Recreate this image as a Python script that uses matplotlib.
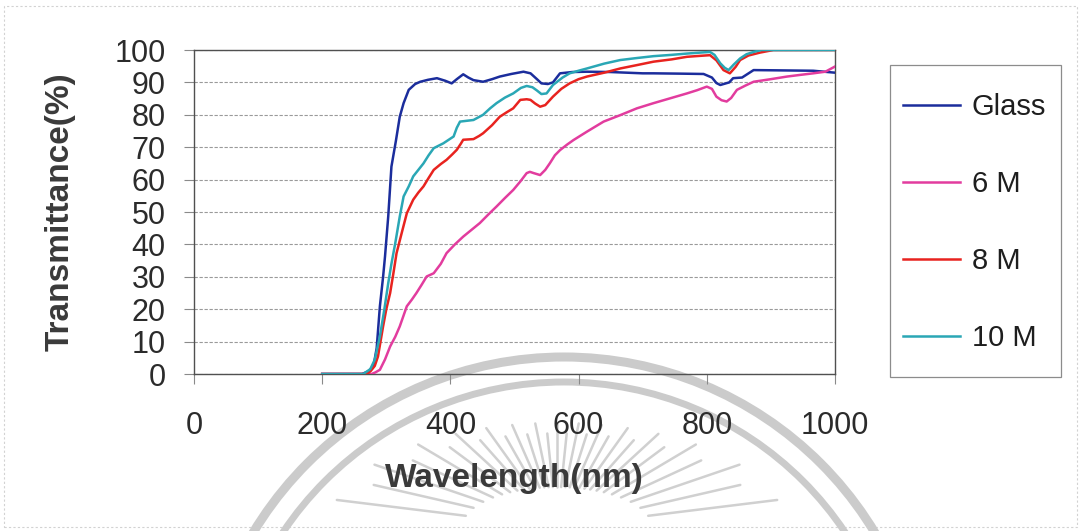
import matplotlib
matplotlib.use("Agg")
import numpy as np
import matplotlib.pyplot as plt
from matplotlib.patches import Rectangle, Arc
from matplotlib.lines import Line2D

plt.rcParams['font.family'] = ['Liberation Sans', 'DejaVu Sans']

# ---------------- data ----------------
glass_wl = [200, 262, 272, 280, 285, 290, 295, 298, 303, 308, 315, 321, 327, 335, 345, 353, 365, 379,
            392, 402, 410, 420, 428, 436, 451, 465, 477, 495, 514, 525, 535, 542, 552, 560, 571, 590,
            613, 650, 700, 717, 760, 795, 808, 815, 821, 828, 835, 841, 855, 873, 920, 966, 1000]
glass_t = [0, 0, 0.8, 2.4, 8, 20.9, 30, 36.3, 48.6, 64, 72, 79.4, 83.6, 87.7, 89.5, 90.2, 90.8, 91.3,
           90.5, 89.7, 91, 92.5, 91.5, 90.7, 90.2, 91, 91.8, 92.6, 93.3, 92.8, 91, 89.7, 89.5, 90, 92.8, 93.2,
           93.3, 93.2, 92.8, 92.8, 92.7, 92.6, 91.5, 89.8, 89.2, 89.6, 90, 91.3, 91.5, 93.8, 93.7, 93.6, 93]

m6_wl = [200, 277, 283, 290, 298, 306, 314, 321, 332, 340, 347, 355, 363, 374, 385, 394, 407, 420, 433,
         446, 459, 472, 485, 498, 509, 519, 524, 530, 540, 548, 555, 563, 571, 582, 592, 613, 639, 665,
         691, 717, 743, 769, 785, 800, 808, 815, 823, 831, 838, 847, 860, 873, 900, 925, 945, 966, 985, 1000]
m6_t = [0, 0, 0.5, 1.3, 4.5, 8.5, 11.5, 14.7, 20.9, 23, 25, 27.5, 30.1, 31.1, 34, 37.3, 40, 42.4, 44.5,
        46.6, 49.2, 51.7, 54.3, 56.8, 59.4, 62, 62.4, 62, 61.4, 63, 65, 67.5, 69.1, 70.8, 72.2, 74.8, 77.9, 79.9,
        82, 83.6, 85.1, 86.6, 87.6, 88.7, 88, 85.6, 84.5, 84.1, 85.2, 87.7, 89, 90.2, 91, 91.8, 92.3, 92.8, 93.3, 94.9]

m8_wl = [200, 270, 276, 282, 287, 295, 300, 306, 311, 316, 324, 332, 342, 350, 358, 366, 374, 385, 394,
         403, 410, 416, 420, 436, 445, 451, 465, 477, 488, 498, 509, 519, 525, 532, 540, 548, 560, 573,
         586, 600, 613, 640, 665, 690, 717, 745, 769, 790, 805, 815, 826, 836, 845, 852, 865, 883, 904, 1000]
m8_t = [0, 0, 1, 2.5, 5.4, 14.7, 20, 25, 31, 37.3, 43.5, 49.6, 53.8, 56, 57.9, 60.5, 63, 64.8, 66.1,
        67.8, 69.2, 71, 72.3, 72.5, 73.5, 74.3, 76.8, 79.4, 80.8, 82, 84.6, 84.8, 84.6, 83.5, 82.5, 83, 85.6, 88,
        89.7, 91, 91.8, 93, 94.3, 95.3, 96.4, 97.1, 97.9, 98.2, 98.4, 96.8, 93.8, 92.8, 94.8, 96.9, 98.3, 99.2, 100, 100]

m10_wl = [200, 264, 275, 282, 290, 297, 303, 308, 314, 321, 327, 335, 342, 350, 358, 366, 374, 389, 405,
          410, 415, 436, 451, 462, 472, 485, 498, 510, 519, 528, 535, 542, 550, 560, 575, 586, 600, 613,
          640, 665, 690, 717, 745, 769, 790, 805, 812, 821, 828, 834, 842, 852, 862, 873, 885, 1000]
m10_t = [0, 0, 1.5, 4.4, 11.6, 20, 28, 34, 40.4, 48.6, 54.8, 57.9, 61, 63, 65, 67.5, 69.7, 71.2, 73.3,
         76, 77.9, 78.4, 80, 82, 83.6, 85.3, 86.6, 88.3, 88.9, 88.5, 87.5, 86.4, 86.6, 89.2, 91.5, 92.8, 93.6, 94.3,
         95.8, 96.9, 97.5, 98.1, 98.5, 98.9, 99.2, 99.4, 98.5, 95.9, 94.5, 93.8, 95.5, 97.4, 98.7, 99.4, 100, 100]

series_names = ["Glass", "6 M", "8 M", "10 M"]
series_colors = ["#1b2d9c", "#e23c9e", "#e8231f", "#2aa7b5"]
x_ticks = [0, 200, 400, 600, 800, 1000]
y_ticks = list(range(0, 101, 10))

# ---------------- figure ----------------
W, H = 1083, 531
fig = plt.figure(figsize=(W / 100, H / 100), dpi=100)
fig.patch.set_facecolor("white")

def fx(px):
    return px / W

def fy(py):
    return 1 - py / H

# faint chart-area border (scan frame)
fig.add_artist(Rectangle((fx(4), fy(527)), fx(1077) - fx(4), fy(6) - fy(527), transform=fig.transFigure,
                         fill=False, edgecolor="#d2d2d2", linewidth=0.8, linestyle=(0, (2, 2)), zorder=-2))

# watermark of the scanned page (seal arcs and sun rays), behind everything
for r, lw in [(363, 6.5), (338, 5.0)]:
    fig.add_artist(Arc((fx(564), fy(720)), 2 * r / W, 2 * r / H, theta1=0, theta2=180,
                       transform=fig.transFigure, color="#cbcbcb", linewidth=lw, zorder=-1))

def ell_r(phi, a, b):
    return 1.0 / np.sqrt((np.cos(phi) / a) ** 2 + (np.sin(phi) / b) ** 2)

cx, cy = 557, 527
for i, ang in enumerate(np.linspace(7, 173, 29)):
    phi = np.radians(ang)
    r0 = ell_r(phi, 95, 40)
    r1 = ell_r(phi, 228, 104) * (1.0 if i % 2 == 0 else 0.9)
    xs = [cx + r0 * np.cos(phi), cx + r1 * np.cos(phi)]
    ys = [cy - r0 * np.sin(phi), cy - r1 * np.sin(phi)]
    fig.add_artist(Line2D([fx(v) for v in xs], [fy(v) for v in ys], transform=fig.transFigure,
                          color="#d0d0d0", linewidth=1.8, solid_capstyle="round", zorder=-1))

ax = fig.add_axes([fx(194), fy(374), fx(835) - fx(194), fy(50) - fy(374)])
ax.set_facecolor("none")

lines = []
for wl, t, name, c in zip([glass_wl, m6_wl, m8_wl, m10_wl], [glass_t, m6_t, m8_t, m10_t],
                          series_names, series_colors):
    ln, = ax.plot(wl, t, color=c, linewidth=1.8, label=name, zorder=3)
    lines.append(ln)

ax.set_xlim(0, 1000)
ax.set_ylim(0, 100)
ax.set_xticks(x_ticks)
ax.set_yticks(y_ticks)
ax.yaxis.grid(True, color="#9a9a9a", linewidth=0.8, linestyle=(0, (3, 1.5)))
ax.xaxis.grid(False)

for s in ax.spines.values():
    s.set_color("#505050")
    s.set_linewidth(1.0)

ax.tick_params(axis="x", direction="out", length=7, width=0.8, color="#8a8a8a",
               pad=20, labelsize=22, labelcolor="#2b2b2b")
ax.tick_params(axis="y", direction="out", length=7, width=0.8, color="#8a8a8a",
               pad=13.5, labelsize=22, labelcolor="#2b2b2b")

ax.set_xlabel("Wavelength(nm)", fontsize=24, fontweight="bold", color="#3a3a3a")
ax.set_ylabel("Transmittance(%)", fontsize=24, fontweight="bold", color="#3a3a3a")
ax.xaxis.set_label_coords(0.5, -(478 - 374) / (374 - 50))
ax.yaxis.set_label_coords(-(194 - 60) / (835 - 194), 0.5)
ax.xaxis.label.set_va("center")
ax.yaxis.label.set_va("center")

# legend box drawn as a plain rectangle, entries placed inside it
fig.add_artist(Rectangle((fx(890), fy(377)), fx(1061) - fx(890), fy(65) - fy(377),
                         transform=fig.transFigure, facecolor="white", edgecolor="#8c8c8c",
                         linewidth=0.9, zorder=1))
leg = fig.legend(handles=lines, labels=series_names, loc="upper left",
                 bbox_to_anchor=(fx(903), fy(93)), bbox_transform=fig.transFigure,
                 fontsize=21, frameon=False, borderpad=0,
                 handlelength=1.95, handletextpad=0.4, labelspacing=1.68, borderaxespad=0)
leg.set_zorder(2)
for t in leg.get_texts():
    t.set_color("#1e1e1e")

fig.savefig("out.png", dpi=100, facecolor="white")
